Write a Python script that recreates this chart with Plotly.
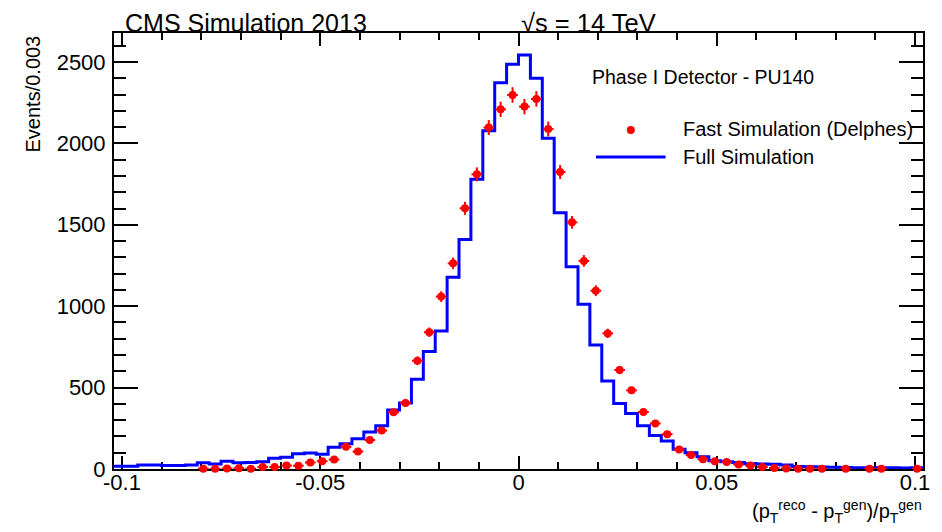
import numpy as np
import plotly.graph_objects as go

# ---------------- data ----------------
# histogram definition: 68 bins of width 0.003 from -0.102 to 0.102
BIN_LOW = -0.102
BIN_HIGH = 0.102
N_BINS = 68

# Full Simulation (blue histogram), one value per bin
full_sim = [17, 17, 24, 24, 22, 22, 24, 38, 31, 48,
            38, 40, 44, 66, 72, 93, 99, 90, 134, 155,
            186, 228, 265, 362, 405, 551, 721, 848, 1177, 1409,
            1779, 2078, 2373, 2486, 2543, 2400, 2031, 1574, 1243, 1012,
            762, 540, 403, 341, 266, 206, 172, 122, 100, 76,
            50, 45, 40, 33, 31, 29, 25, 16, 14, 12,
            10, 9, 8, 8, 7, 7, 6, 8]

# Fast Simulation (Delphes) (red points), None = empty bin
fast_sim = [None, None, None, None, None, None, None, 2, 1, 3,
            5, 2, 13, 12, 21, 20, 40, 48, 58, 136,
            107, 178, 236, 348, 406, 665, 840, 1059, 1263, 1601,
            1810, 2097, 2209, 2297, 2226, 2273, 2088, 1824, 1515, 1278,
            1095, 833, 608, 483, 350, 280, 214, 120, 86, 60,
            47, 43, 28, 21, 12, 6, 3, 2, 2, 2,
            None, 1, None, 1, 1, None, None, 1]

x_tick_vals = [-0.1, -0.05, 0, 0.05, 0.1]
x_tick_text = ["-0.1", "-0.05", "0", "0.05", "0.1"]
y_tick_vals = [0, 500, 1000, 1500, 2000, 2500]
y_tick_text = ["0", "500", "1000", "1500", "2000", "2500"]

# ---------------- derived ----------------
edges = np.linspace(BIN_LOW, BIN_HIGH, N_BINS + 1)
centers = 0.5 * (edges[:-1] + edges[1:])
bin_w = edges[1] - edges[0]

step_x = list(edges)
step_y = list(full_sim) + [full_sim[-1]]

fx = [c for c, v in zip(centers, fast_sim) if v is not None]
fy = [v for v in fast_sim if v is not None]
fe = [float(np.sqrt(v)) for v in fy]

# ---------------- layout geometry ----------------
# the page body adds an 8px margin; compensate so the figure lands where the reference is
OFF = 8
W, H = 942 - OFF, 532 - OFF
ML, MR, MT, MB = 114 - OFF, 14, 33 - OFF, 63
PW, PH = W - ML - MR, H - MT - MB


def px(xref_pix):
    return (xref_pix - OFF - ML) / PW


def py(yref_pix):
    return (H - MB - (yref_pix - OFF)) / PH


FONT = "Liberation Sans, Arial, Helvetica, sans-serif"

fig = go.Figure()

fig.add_trace(go.Scatter(
    x=step_x, y=step_y, mode="lines",
    line=dict(shape="hv", color="#0000ff", width=3),
    showlegend=False, hoverinfo="skip",
))

fig.add_trace(go.Scatter(
    x=fx, y=fy, mode="markers",
    marker=dict(color="#ff0000", size=8, line=dict(width=0)),
    error_y=dict(type="data", array=fe, color="#ff0000", thickness=2, width=0),
    error_x=dict(type="constant", value=bin_w * 0.45, color="#ff0000", thickness=2, width=0),
    cliponaxis=False, showlegend=False, hoverinfo="skip",
))

axis_common = dict(
    showline=True, linecolor="black", linewidth=2, mirror="allticks",
    ticks="inside", tickcolor="black", tickwidth=2,
    showgrid=False, zeroline=False, layer="below traces",
    tickfont=dict(family=FONT, size=22, color="black"),
)

fig.update_xaxes(
    range=[BIN_LOW, BIN_HIGH], tickmode="array",
    tickvals=x_tick_vals, ticktext=x_tick_text, ticklen=13,
    ticklabelstandoff=-7,
    minor=dict(tickmode="linear", tick0=0, dtick=0.01, ticklen=7,
               ticks="inside", tickcolor="black", tickwidth=2),
    **axis_common,
)
fig.update_yaxes(
    range=[0, 2678], tickmode="array",
    tickvals=y_tick_vals, ticktext=y_tick_text, ticklen=24,
    ticklabelstandoff=2,
    minor=dict(tickmode="linear", tick0=0, dtick=100, ticklen=12,
               ticks="inside", tickcolor="black", tickwidth=2),
    **axis_common,
)

annotations = [
    dict(text="CMS Simulation 2013", x=px(123), y=py(22.5), xanchor="left", yanchor="middle",
         font=dict(family=FONT, size=25, color="black")),
    dict(text="\u221as = 14 TeV", x=px(522), y=py(22.5), xanchor="left", yanchor="middle",
         font=dict(family=FONT, size=25.5, color="black")),
    dict(text="Phase I Detector - PU140", x=px(593), y=py(77), xanchor="left", yanchor="middle",
         font=dict(family=FONT, size=19.5, color="black")),
    dict(text="Fast Simulation (Delphes)", x=px(685), y=py(129), xanchor="left", yanchor="middle",
         font=dict(family=FONT, size=20, color="black")),
    dict(text="Full Simulation", x=px(685), y=py(157), xanchor="left", yanchor="middle",
         font=dict(family=FONT, size=20, color="black")),
    dict(text="Events/0.003", x=px(32), y=py(94), xanchor="center", yanchor="middle",
         textangle=-90, font=dict(family=FONT, size=20, color="black")),
    dict(text="(p<sub>T</sub><sup>reco</sup> - p<sub>T</sub><sup>gen</sup>)/p<sub>T</sub><sup>gen</sup>",
         x=px(929), y=py(512), xanchor="right", yanchor="middle",
         font=dict(family=FONT, size=20, color="black")),
]
for a in annotations:
    a.update(xref="paper", yref="paper", showarrow=False)

shapes = [
    # legend samples
    dict(type="line", xref="paper", yref="paper", x0=px(599), x1=px(669), y0=py(157), y1=py(157),
         line=dict(color="#0000ff", width=3)),
    dict(type="circle", xref="paper", yref="paper", xsizemode="pixel", ysizemode="pixel",
         xanchor=px(634), yanchor=py(130), x0=-4, x1=4, y0=-4, y1=4,
         fillcolor="#ff0000", line=dict(width=0)),
]

fig.update_layout(
    width=W, height=H,
    margin=dict(l=ML, r=MR, t=MT, b=MB, pad=0),
    paper_bgcolor="white", plot_bgcolor="white",
    annotations=annotations, shapes=shapes,
    showlegend=False,
    font=dict(family=FONT, color="black"),
)

fig.write_html("out.html")
